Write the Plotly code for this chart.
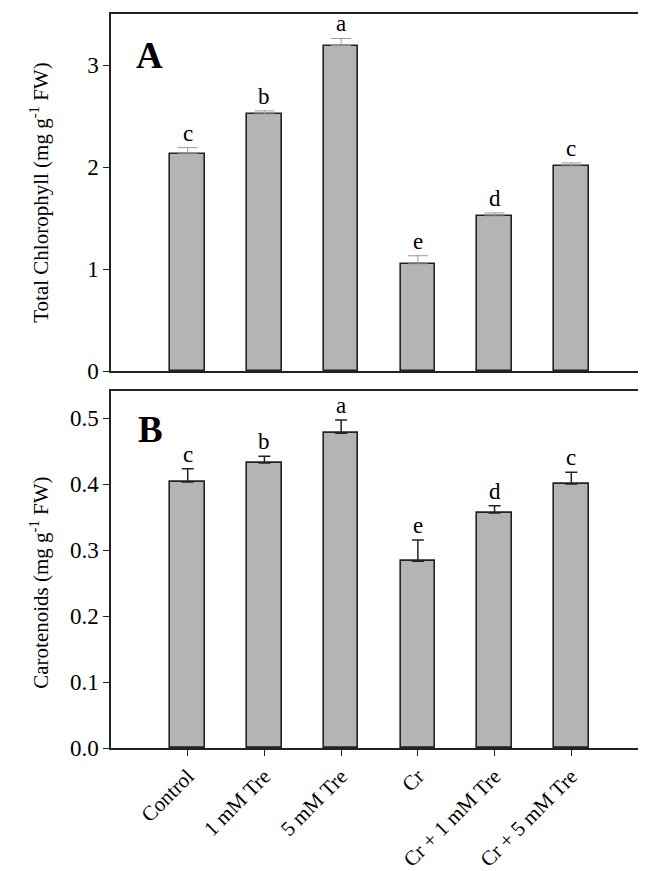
import plotly.graph_objects as go

categories = ["Control", "1 mM Tre", "5 mM Tre", "Cr", "Cr + 1 mM Tre", "Cr + 5 mM Tre"]
chl_values = [2.13, 2.52, 3.19, 1.05, 1.52, 2.01]
chl_errors = [0.06, 0.03, 0.07, 0.08, 0.03, 0.03]
chl_letters = ["c", "b", "a", "e", "d", "c"]
car_values = [0.403, 0.432, 0.477, 0.283, 0.356, 0.400]
car_errors = [0.020, 0.010, 0.020, 0.032, 0.011, 0.018]
car_letters = ["c", "b", "a", "e", "d", "c"]

FONT = "Liberation Serif"
W, H = 646, 871
L, R, T, B = 103, 4, 4, 131
PW = W - L - R
PH = H - T - B

def fy(p):
    return (H - B - p) / PH

def fx(p):
    return (p - L) / PW

xpos = list(range(len(categories)))

fig = go.Figure()
fig.add_trace(go.Bar(
    x=xpos, y=chl_values, width=0.45,
    marker=dict(color="#b4b4b4", line=dict(color="#222222", width=1.6)),
    error_y=dict(type="data", array=chl_errors, arrayminus=[0]*6, symmetric=False,
                 color="#9a9a9a", thickness=1, width=10),
    xaxis="x", yaxis="y", showlegend=False))
fig.add_trace(go.Bar(
    x=xpos, y=car_values, width=0.45,
    marker=dict(color="#b4b4b4", line=dict(color="#222222", width=1.6)),
    error_y=dict(type="data", array=car_errors, arrayminus=[0]*6, symmetric=False,
                 color="#222222", thickness=1.5, width=6),
    xaxis="x2", yaxis="y2", showlegend=False))

annotations = []
for i in xpos:
    annotations.append(dict(x=i, y=chl_values[i] + chl_errors[i], xref="x", yref="y",
                            text=chl_letters[i], showarrow=False, yanchor="bottom", yshift=0,
                            font=dict(family=FONT, size=23, color="black")))
    annotations.append(dict(x=i, y=car_values[i] + car_errors[i], xref="x2", yref="y2",
                            text=car_letters[i], showarrow=False, yanchor="bottom", yshift=0,
                            font=dict(family=FONT, size=23, color="black")))

annotations.append(dict(x=fx(142), y=fy(46), xref="paper", yref="paper", text="<b>A</b>",
                        showarrow=False, xanchor="center", yanchor="middle",
                        font=dict(family=FONT, size=37, color="black")))
annotations.append(dict(x=fx(143), y=fy(421), xref="paper", yref="paper", text="<b>B</b>",
                        showarrow=False, xanchor="center", yanchor="middle",
                        font=dict(family=FONT, size=37, color="black")))
annotations.append(dict(x=fx(31), y=fy(183), xref="paper", yref="paper",
                        text="Total Chlorophyll (mg g<sup>-1</sup> FW)", textangle=-90,
                        showarrow=False, xanchor="center", yanchor="middle",
                        font=dict(family=FONT, size=21, color="black")))
annotations.append(dict(x=fx(31), y=fy(574), xref="paper", yref="paper",
                        text="Carotenoids (mg g<sup>-1</sup> FW)", textangle=-90,
                        showarrow=False, xanchor="center", yanchor="middle",
                        font=dict(family=FONT, size=21, color="black")))

axis_common = dict(showline=True, linecolor="#222222", linewidth=1.5, mirror=True,
                   showgrid=False, zeroline=False)

fig.update_layout(
    width=W, height=H,
    margin=dict(l=L, r=R, t=T, b=B),
    paper_bgcolor="white", plot_bgcolor="white",
    bargap=0,
    annotations=annotations,
    xaxis=dict(domain=[0, 1], anchor="y", range=[-1, 6], tickvals=xpos,
               showticklabels=False, ticks="", **axis_common),
    yaxis=dict(domain=[fy(362), 1], anchor="x", range=[0, 3.5],
               tickvals=[0, 1, 2, 3], ticks="outside", ticklen=6, tickcolor="#222222",
               tickfont=dict(family=FONT, size=23, color="black"), **axis_common),
    xaxis2=dict(domain=[0, 1], anchor="y2", range=[-1, 6], tickvals=xpos,
                ticktext=categories, tickangle=-45, ticks="outside", ticklen=6,
                tickcolor="#222222", tickfont=dict(family=FONT, size=21, color="black"),
                **axis_common),
    yaxis2=dict(domain=[0, fy(382)], anchor="x2", range=[0, 0.541],
                tickvals=[0, 0.1, 0.2, 0.3, 0.4, 0.5], tickformat=".1f",
                ticks="outside", ticklen=6, tickcolor="#222222",
                tickfont=dict(family=FONT, size=23, color="black"), **axis_common),
)

fig.write_html("out.html")
